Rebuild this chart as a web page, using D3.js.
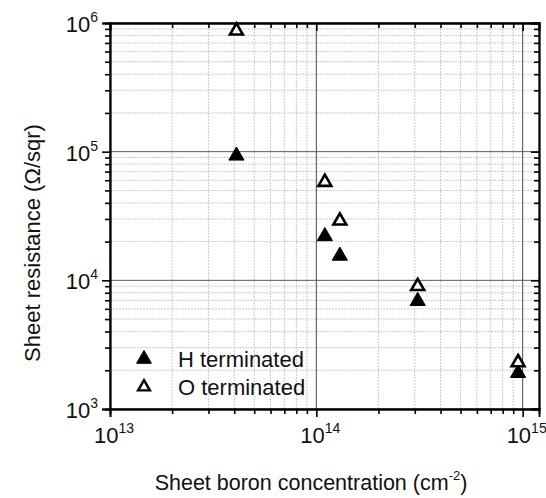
<!DOCTYPE html>
<html>
<head>
<meta charset="utf-8">
<script src="https://cdn.jsdelivr.net/npm/d3@7"></script>
<style>
  html, body { margin: 0; padding: 0; background: #fff; }
  svg { display: block; font-family: "Liberation Sans", Arial, sans-serif; }
</style>
</head>
<body>
<svg id="chart" width="546" height="498"></svg>
<script>
// Sheet boron concentration (cm^-2) for each sample
const concentration = [4.1e13, 1.1e14, 1.3e14, 3.1e14, 9.5e14];
// Sheet resistance (Ohm/sqr), hydrogen-terminated surface
const hTerminated = [9.3e4, 2.2e4, 1.55e4, 6.9e3, 1.9e3];
// Sheet resistance (Ohm/sqr), oxygen-terminated surface
const oTerminated = [8.7e5, 5.8e4, 2.9e4, 9.0e3, 2.3e3];

const xDecades = [13, 14, 15];
const yDecades = [3, 4, 5, 6];
const seriesNames = ["H terminated", "O terminated"];

const svg = d3.select("#chart");
const plotLeft = 110, plotRight = 539, plotTop = 23, plotBottom = 409;

const x = d3.scaleLog().domain([1e13, 1.2e15]).range([plotLeft, plotRight]);
const y = d3.scaleLog().domain([1e3, 1e6]).range([plotBottom, plotTop]);

// major and minor tick values for a log axis
function logTicks(scale) {
  const [a, b] = scale.domain();
  const major = [], minor = [];
  for (let e = Math.floor(Math.log10(a)); e <= Math.ceil(Math.log10(b)); e++) {
    for (let m = 1; m <= 9; m++) {
      const v = m * Math.pow(10, e);
      if (v < a * 0.999 || v > b * 1.001) continue;
      (m === 1 ? major : minor).push(v);
    }
  }
  return { major, minor };
}
const xt = logTicks(x), yt = logTicks(y);

// grid
const grid = svg.append("g");
grid.selectAll("line.xminor").data(xt.minor).join("line")
  .attr("x1", d => x(d)).attr("x2", d => x(d)).attr("y1", plotTop).attr("y2", plotBottom)
  .attr("stroke", "#cacaca").attr("stroke-width", 1).attr("stroke-dasharray", "2,1");
grid.selectAll("line.yminor").data(yt.minor).join("line")
  .attr("y1", d => y(d)).attr("y2", d => y(d)).attr("x1", plotLeft).attr("x2", plotRight)
  .attr("stroke", "#cacaca").attr("stroke-width", 1).attr("stroke-dasharray", "2,1");
grid.selectAll("line.xmajor").data(xt.major).join("line")
  .attr("x1", d => x(d)).attr("x2", d => x(d)).attr("y1", plotTop).attr("y2", plotBottom)
  .attr("stroke", "#4a4a4a").attr("stroke-width", 1);
grid.selectAll("line.ymajor").data(yt.major).join("line")
  .attr("y1", d => y(d)).attr("y2", d => y(d)).attr("x1", plotLeft).attr("x2", plotRight)
  .attr("stroke", "#5a5a5a").attr("stroke-width", 1);

// axes: outward ticks bottom/left, inward ticks top/right
function addAxis(gen, transform, values, size) {
  const g = svg.append("g").attr("transform", transform)
    .call(gen.tickValues(values).tickSize(size).tickFormat(""));
  g.selectAll("line").attr("stroke", "#000").attr("stroke-width", 1.6);
  g.select(".domain").attr("stroke", "#000").attr("stroke-width", 1.8);
  return g;
}
addAxis(d3.axisBottom(x), `translate(0,${plotBottom})`, xt.major, 8);
addAxis(d3.axisBottom(x), `translate(0,${plotBottom})`, xt.minor, 5);
addAxis(d3.axisTop(x), `translate(0,${plotTop})`, xt.major, -8);
addAxis(d3.axisTop(x), `translate(0,${plotTop})`, xt.minor, -5);
addAxis(d3.axisLeft(y), `translate(${plotLeft},0)`, yt.major, 8);
addAxis(d3.axisLeft(y), `translate(${plotLeft},0)`, yt.minor, 5);
addAxis(d3.axisRight(y), `translate(${plotRight},0)`, yt.major, -8);
addAxis(d3.axisRight(y), `translate(${plotRight},0)`, yt.minor, -5);

// power-of-ten tick labels
function powLabel(sel, exp) {
  sel.append("tspan").text("10");
  sel.append("tspan").attr("dy", -10).attr("font-size", 14).text(exp);
}
svg.append("g").selectAll("text").data(xDecades).join("text")
  .attr("x", d => x(Math.pow(10, d)) + 4).attr("y", 443)
  .attr("text-anchor", "middle").attr("font-size", 22).attr("fill", "#111")
  .each(function(d) { powLabel(d3.select(this), d); });
svg.append("g").selectAll("text").data(yDecades).join("text")
  .attr("x", 98).attr("y", d => y(Math.pow(10, d)) + 9)
  .attr("text-anchor", "end").attr("font-size", 22).attr("fill", "#111")
  .each(function(d) { powLabel(d3.select(this), d); });

// axis titles
const xTitle = svg.append("text").attr("x", 311).attr("y", 490)
  .attr("text-anchor", "middle").attr("font-size", 21.5).attr("fill", "#111");
xTitle.append("tspan").text("Sheet boron concentration (cm");
xTitle.append("tspan").attr("dy", -10).attr("font-size", 13).text("-2");
xTitle.append("tspan").attr("dy", 10).text(")");

svg.append("text")
  .attr("transform", "translate(40,243) rotate(-90)")
  .attr("text-anchor", "middle").attr("font-size", 22).attr("fill", "#111")
  .text("Sheet resistance (\u03A9/sqr)");

// markers
const tri = d3.symbol().type(d3.symbolTriangle).size(100);
const marks = svg.append("g");
marks.selectAll("path.h").data(concentration).join("path")
  .attr("transform", (d, i) => `translate(${x(d)},${y(hTerminated[i])})`)
  .attr("d", tri).attr("fill", "#000").attr("stroke", "#000").attr("stroke-width", 1);
marks.selectAll("path.o").data(concentration).join("path")
  .attr("transform", (d, i) => `translate(${x(d)},${y(oTerminated[i])})`)
  .attr("d", d3.symbol().type(d3.symbolTriangle).size(72))
  .attr("fill", "#fff").attr("stroke", "#000").attr("stroke-width", 2.6);

// legend
const legend = svg.append("g").attr("transform", "translate(144,359)");
seriesNames.forEach((name, i) => {
  const row = legend.append("g").attr("transform", `translate(0,${i * 28})`);
  row.append("path")
    .attr("d", d3.symbol().type(d3.symbolTriangle).size(i === 0 ? 95 : 60))
    .attr("fill", i === 0 ? "#000" : "#fff").attr("stroke", "#000")
    .attr("stroke-width", i === 0 ? 1 : 2.4);
  row.append("text").attr("x", 34).attr("y", 8).attr("font-size", 22)
    .attr("fill", "#111").text(name);
});
</script>
</body>
</html>
